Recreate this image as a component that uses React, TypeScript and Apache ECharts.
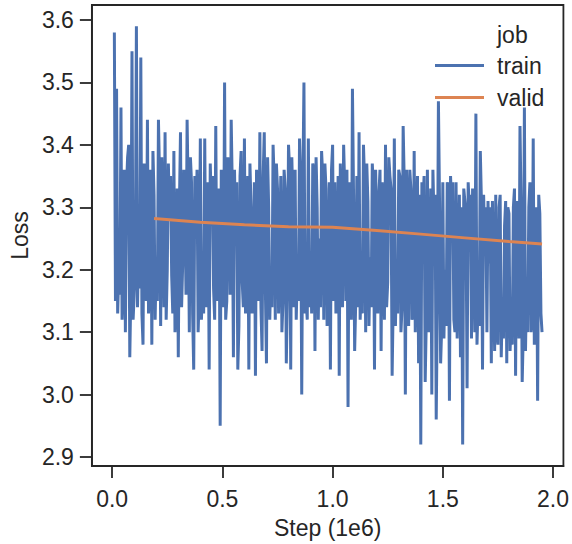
import React, { useEffect, useRef } from "react";
import * as echarts from "echarts";

// Training loss, one value every 0.005e6 steps starting at 0.01e6
const trainStart = 0.01;
const trainStepSize = 0.005;
const trainLoss = [
  3.58, 3.15, 3.49, 3.13, 3.20, 3.16, 3.46, 3.12, 3.18, 3.36, 3.10, 3.33, 3.38, 3.40, 3.06, 3.17, 3.55, 3.12, 3.16, 3.20,
  3.59, 3.14, 3.25, 3.17, 3.54, 3.13, 3.08, 3.37, 3.35, 3.15, 3.44, 3.13, 3.20, 3.36, 3.08, 3.39, 3.32, 3.12, 3.22, 3.15,
  3.44, 3.35, 3.11, 3.38, 3.30, 3.14, 3.42, 3.12, 3.20, 3.37, 3.28, 3.35, 3.19, 3.13, 3.39, 3.10, 3.15, 3.33, 3.06, 3.30,
  3.42, 3.14, 3.21, 3.36, 3.30, 3.16, 3.44, 3.32, 3.10, 3.38, 3.34, 3.13, 3.04, 3.35, 3.25, 3.36, 3.10, 3.16, 3.41, 3.12,
  3.18, 3.13, 3.41, 3.14, 3.22, 3.34, 3.04, 3.37, 3.30, 3.35, 3.17, 3.12, 3.43, 3.15, 3.20, 3.33, 2.95, 3.36, 3.28, 3.14,
  3.50, 3.12, 3.15, 3.38, 3.33, 3.16, 3.44, 3.33, 3.06, 3.36, 3.25, 3.34, 3.04, 3.11, 3.35, 3.39, 3.18, 3.14, 3.41, 3.13,
  3.22, 3.35, 3.04, 3.37, 3.30, 3.13, 3.20, 3.34, 3.03, 3.36, 3.28, 3.15, 3.42, 3.14, 3.07, 3.35, 3.42, 3.17, 3.05, 3.38,
  3.30, 3.12, 3.20, 3.14, 3.40, 3.34, 3.12, 3.37, 3.33, 3.13, 3.24, 3.35, 3.10, 3.15, 3.36, 3.33, 3.05, 3.16, 3.40, 3.36,
  3.04, 3.38, 3.30, 3.14, 3.36, 3.12, 3.20, 3.15, 3.41, 3.34, 3.00, 3.33, 3.50, 3.13, 3.15, 3.12, 3.41, 3.14, 3.22, 3.13,
  3.37, 3.36, 3.07, 3.38, 3.30, 3.12, 3.25, 3.14, 3.39, 3.35, 3.12, 3.37, 3.33, 3.11, 3.18, 3.34, 3.04, 3.36, 3.40, 3.15,
  3.34, 3.13, 3.22, 3.35, 3.03, 3.37, 3.30, 3.14, 3.40, 3.33, 3.15, 3.36, 2.98, 3.34, 3.27, 3.12, 3.49, 3.32, 3.07, 3.15,
  3.35, 3.14, 3.42, 3.12, 3.18, 3.13, 3.40, 3.34, 3.10, 3.37, 3.31, 3.11, 3.22, 3.14, 3.37, 3.33, 3.04, 3.36, 3.28, 3.13,
  3.32, 3.36, 3.07, 3.34, 3.25, 3.12, 3.40, 3.14, 3.18, 3.38, 3.35, 3.33, 3.03, 3.15, 3.41, 3.11, 3.20, 3.13, 3.36, 3.35,
  3.10, 3.14, 3.43, 3.34, 3.00, 3.36, 3.30, 3.11, 3.36, 3.33, 3.12, 3.13, 3.39, 3.10, 3.25, 3.35, 3.05, 3.32, 2.92, 3.34,
  3.30, 3.35, 3.02, 3.12, 3.36, 3.10, 3.18, 3.33, 3.00, 3.36, 3.28, 3.32, 2.96, 3.14, 3.47, 3.31, 3.05, 3.11, 3.34, 3.09,
  3.20, 3.11, 3.34, 3.33, 2.99, 3.35, 3.30, 3.34, 3.12, 3.10, 3.34, 3.09, 3.21, 3.32, 3.06, 3.30, 2.92, 3.33, 3.31, 3.29,
  3.01, 3.34, 3.30, 3.32, 3.09, 3.33, 3.25, 3.10, 3.45, 3.08, 3.15, 3.11, 3.39, 3.31, 3.04, 3.32, 3.24, 3.30, 3.10, 3.31,
  3.21, 3.30, 3.05, 3.31, 3.19, 3.07, 3.32, 3.10, 3.08, 3.30, 3.32, 3.06, 3.15, 3.09, 3.27, 3.31, 3.05, 3.30, 3.29, 3.07,
  3.12, 3.08, 3.30, 3.33, 3.03, 3.31, 3.28, 3.09, 3.43, 3.30, 3.02, 3.10, 3.46, 3.07, 3.18, 3.10, 3.30, 3.34, 3.10, 3.12,
  3.41, 3.08, 3.15, 3.30, 2.99, 3.32, 3.29, 3.13, 3.10,
];

const validSteps = [0.19, 0.4, 0.6, 0.8, 1.0, 1.2, 1.4, 1.6, 1.8, 1.95];
const validLoss = [3.282, 3.276, 3.272, 3.269, 3.268, 3.263, 3.257, 3.251, 3.245, 3.241];

const yTicks = [2.9, 3.0, 3.1, 3.2, 3.3, 3.4, 3.5, 3.6];
const xTicks = [0.0, 0.5, 1.0, 1.5, 2.0];

const seriesNames = ["train", "valid"];
const legendTitle = "job";

const FONT = "'Liberation Sans', Arial, sans-serif";
const INK = "#262626";
const FS = 23;

export default function App() {
  const ref = useRef<HTMLDivElement>(null);

  useEffect(() => {
    if (!ref.current) return;
    const chart = echarts.init(ref.current, undefined, { renderer: "svg" });
    const trainData = trainLoss.map((v, i) => [
      +(trainStart + i * trainStepSize).toFixed(4),
      v,
    ]);
    const validData = validSteps.map((s, i) => [s, validLoss[i]]);

    chart.setOption({
      animation: false,
      backgroundColor: "#ffffff",
      textStyle: { fontFamily: FONT },
      grid: {
        left: 90,
        top: 5,
        right: 7,
        bottom: 77,
        show: true,
        borderColor: INK,
        borderWidth: 1.8,
        backgroundColor: "transparent",
      },
      legend: {
        orient: "vertical",
        left: 430,
        top: 49,
        itemWidth: 49,
        itemHeight: 3,
        itemGap: 9,
        icon: "rect",
        data: seriesNames,
        textStyle: {
          fontSize: FS,
          color: INK,
          fontFamily: FONT,
          padding: [0, 0, 0, 8],
        },
      },
      graphic: [
        {
          type: "text",
          left: 497,
          top: 23,
          style: { text: legendTitle, fontSize: FS, fill: INK, fontFamily: FONT },
        },
      ],
      xAxis: {
        type: "value",
        min: -0.092,
        max: 2.047,
        name: "Step (1e6)",
        nameLocation: "middle",
        nameGap: 50,
        nameTextStyle: { fontSize: FS, color: INK, fontFamily: FONT },
        splitLine: { show: false },
        axisLine: { show: true, onZero: false, lineStyle: { color: INK, width: 1.8 } },
        axisTick: {
          show: true,
          inside: false,
          length: 12,
          lineStyle: { color: INK, width: 1.8 },
          customValues: xTicks,
        },
        axisLabel: {
          fontSize: FS,
          color: INK,
          margin: 21,
          fontFamily: FONT,
          customValues: xTicks,
          formatter: (v: number) => v.toFixed(1),
        },
      },
      yAxis: {
        type: "value",
        min: 2.8856,
        max: 3.624,
        name: "Loss",
        nameLocation: "middle",
        nameGap: 46,
        nameTextStyle: { fontSize: FS, color: INK, fontFamily: FONT },
        splitLine: { show: false },
        axisLine: { show: true, onZero: false, lineStyle: { color: INK, width: 1.8 } },
        axisTick: {
          show: true,
          inside: false,
          length: 12,
          lineStyle: { color: INK, width: 1.8 },
          customValues: yTicks,
        },
        axisLabel: {
          fontSize: FS,
          color: INK,
          margin: 18,
          fontFamily: FONT,
          customValues: yTicks,
          formatter: (v: number) => v.toFixed(1),
        },
      },
      series: [
        {
          name: seriesNames[0],
          type: "line",
          data: trainData,
          showSymbol: false,
          symbol: "none",
          color: "#4c72b0",
          lineStyle: { color: "#4c72b0", width: 3 },
          z: 2,
        },
        {
          name: seriesNames[1],
          type: "line",
          data: validData,
          showSymbol: false,
          symbol: "none",
          color: "#dd8452",
          lineStyle: { color: "#dd8452", width: 3 },
          z: 3,
        },
      ],
    });
    return () => chart.dispose();
  }, []);

  return (
    <div
      ref={ref}
      style={{ position: "absolute", left: 0, top: 0, width: 572, height: 544 }}
    />
  );
}
